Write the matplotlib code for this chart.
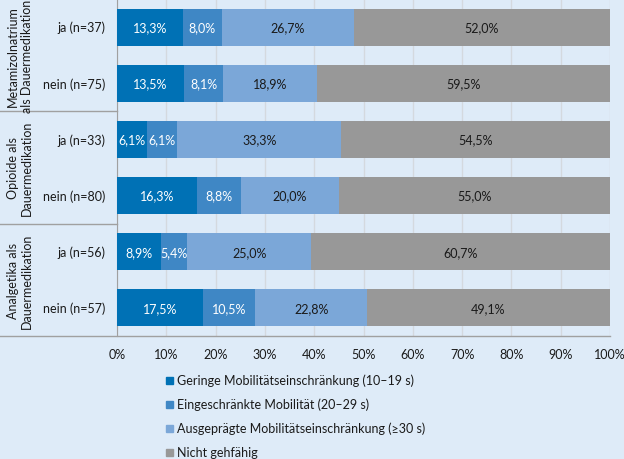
import matplotlib
matplotlib.use("Agg")
import matplotlib.pyplot as plt
from matplotlib.patches import Rectangle
from matplotlib.transforms import blended_transform_factory
import numpy as np

plt.rcParams['font.family'] = ['Lato', 'DejaVu Sans']

groups = ["Metamizolnatrium\nals Dauermedikation", "Opioide als\nDauermedikation", "Analgetika als\nDauermedikation"]
rows = ["ja (n=37)", "nein (n=75)", "ja (n=33)", "nein (n=80)", "ja (n=56)", "nein (n=57)"]
series = ["Geringe Mobilitätseinschränkung (10–19 s)", "Eingeschränkte Mobilität (20–29 s)",
          "Ausgeprägte Mobilitätseinschränkung (≥30 s)", "Nicht gehfähig"]
geringe = [13.3, 13.5, 6.1, 16.3, 8.9, 17.5]
eingeschraenkt = [8.0, 8.1, 6.1, 8.8, 5.4, 10.5]
ausgepraegt = [26.7, 18.9, 33.3, 20.0, 25.0, 22.8]
nicht = [52.0, 59.5, 54.5, 55.0, 60.7, 49.1]
values = [geringe, eingeschraenkt, ausgepraegt, nicht]
colors = ["#0071B5", "#3F87C5", "#7BA7D8", "#989898"]
text_colors = ["white", "white", "#1a1a1a", "#1a1a1a"]
xticks = [0, 10, 20, 30, 40, 50, 60, 70, 80, 90, 100]

bg = "#DEEBF8"
W, H = 624, 460
fig = plt.figure(figsize=(W / 100, H / 100), dpi=100, facecolor=bg)
ax = fig.add_axes([117 / W, 1 - 337 / H, (610 - 117) / W, 337 / H], facecolor=bg)

y = np.arange(len(rows))
left = np.zeros(len(rows))
for vals, c, tc in zip(values, colors, text_colors):
    vals = np.array(vals)
    ax.barh(y, vals, left=left, height=0.66, color=c, zorder=3)
    for yi, l, v in zip(y, left, vals):
        ax.text(l + v / 2, yi, f"{v:.1f}%".replace(".", ","), ha="center", va="center",
                color=tc, fontsize=9, zorder=4)
    left += vals

ax.set_xlim(0, 100)
ax.set_ylim(len(rows) - 0.5, -0.5)
ax.set_xticks(xticks)
ax.set_xticklabels([f"{t}%" for t in xticks], fontsize=9, color="#1a1a1a")
ax.set_yticks([])
ax.tick_params(axis="x", length=0, pad=9)
ax.grid(axis="x", color="#D4D9DF", linewidth=1, zorder=0)
for s in ["top", "right"]:
    ax.spines[s].set_visible(False)
ax.spines["left"].set_color("#A0A0A0")
ax.spines["bottom"].set_visible(False)

trans = blended_transform_factory(fig.transFigure, ax.transData)
# separators and bottom line
for sep in [1.5, 3.5]:
    ax.plot([0, 117 / W], [sep, sep], transform=trans, color="#A0A0A0", lw=1, clip_on=False)
ax.plot([0, 610 / W], [5.5, 5.5], transform=trans, color="#A0A0A0", lw=1, clip_on=False, zorder=5)

# row labels
for yi, r in zip(y, rows):
    ax.text(105 / W, yi, r, transform=trans, ha="right", va="center", fontsize=9, color="#1a1a1a")
# group labels
for gi, g in enumerate(groups):
    ax.text(20 / W, 2 * gi + 0.5, g, transform=trans, ha="center", va="center", rotation=90,
            fontsize=9, color="#1a1a1a", linespacing=1.25)

# legend
for i, (s, c) in enumerate(zip(series, colors)):
    yc = 381 + 24 * i
    fig.patches.append(Rectangle((166 / W, 1 - (yc + 3.5) / H), 7 / W, 7 / H,
                                 transform=fig.transFigure, color=c))
    fig.text(177 / W, 1 - yc / H, s, ha="left", va="center", fontsize=9, color="#1a1a1a")

fig.savefig("out.png", dpi=100, facecolor=bg)
